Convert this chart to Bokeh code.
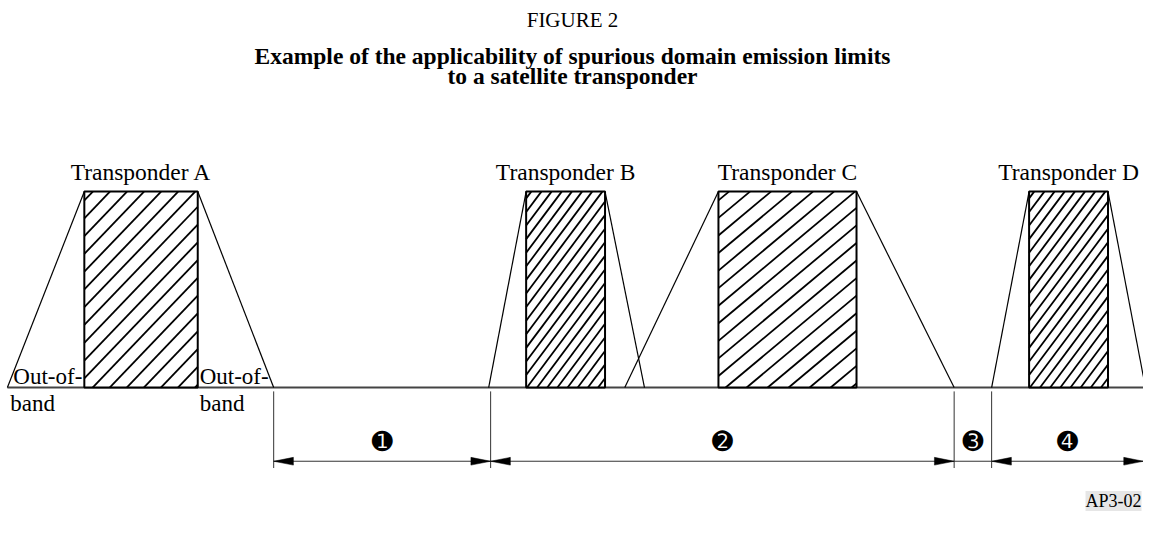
from bokeh.plotting import figure
from bokeh.models import Range1d, Label
from bokeh.core.properties import value
from bokeh.embed import file_html
from bokeh.resources import INLINE

# ---------------- data ----------------
transponders = ["Transponder A", "Transponder B", "Transponder C", "Transponder D"]
oob_low = [7, 495, 633, 1005]          # lower edge of out-of-band skirt (frequency)
carrier_low = [85, 533, 728, 1043]     # necessary bandwidth start
carrier_high = [200, 613, 868, 1123]   # necessary bandwidth end
oob_high = [277, 653, 967, 1161]       # upper edge of out-of-band skirt
carrier_level = [202, 202, 202, 202]   # level of the carrier

domain_bounds = [277, 497, 967, 1005, 1159]   # spurious-domain segments
domain_marks = ["\u278a", "\u278b", "\u278c", "\u278d"]

oob_text = ["Out-of-", "Out-of-"]
oob_text2 = ["band", "band"]

# hatch styles per transponder (horizontal spacing, slope)
hatch_spacing = [17.3, 10.3, 21.3, 10.3]
hatch_slope = [1.06, 1.36, 0.85, 1.36]

SERIF = value("Liberation Serif")

p = figure(width=1143, height=517, x_range=Range1d(0, 1159), y_range=Range1d(-134, 399),
           output_backend="svg", toolbar_location=None, min_border=0,
           x_axis_location=None, y_axis_location=None)
p.grid.visible = False
p.outline_line_color = None
p.background_fill_color = "white"
p.border_fill_color = "white"

# baseline
p.line(x=[oob_low[0], domain_bounds[-1]], y=[0, 0], line_color="#444444", line_width=2)

# skirts
p.segment(x0=oob_low, y0=[0] * 4, x1=carrier_low, y1=carrier_level, line_color="black", line_width=1.2)
p.segment(x0=carrier_high, y0=carrier_level, x1=oob_high, y1=[0] * 4, line_color="black", line_width=1.2)

# carrier blocks
p.quad(left=carrier_low, right=carrier_high, bottom=[0] * 4, top=carrier_level,
       fill_color="white", line_color=None)


def hatch(x0, x1, h, m, s):
    xs, ys = [], []
    c = x0 - h / m + s * 0.5
    while c < x1:
        xa, ya = c, 0.0
        xb, yb = c + h / m, h
        if xa < x0:
            xa, ya = x0, m * (x0 - c)
        if xb > x1:
            xb, yb = x1, m * (x1 - c)
        if xb > xa:
            xs.append([xa, xb])
            ys.append([ya, yb])
        c += s
    return xs, ys


hx, hy = [], []
for i in range(len(transponders)):
    a, b = hatch(carrier_low[i], carrier_high[i], carrier_level[i], hatch_slope[i], hatch_spacing[i])
    hx += a
    hy += b
p.multi_line(xs=hx, ys=hy, line_color="black", line_width=1.8)

p.quad(left=carrier_low, right=carrier_high, bottom=[0] * 4, top=carrier_level,
       fill_color=None, line_color="black", line_width=2)

# transponder labels
p.text(x=[(a + b) / 2 for a, b in zip(carrier_low, carrier_high)], y=[222] * 4, text=transponders,
       text_font=SERIF, text_font_size="23.5px", text_align="center", text_baseline="middle",
       text_color="black")

# out-of-band labels (transponder A)
p.text(x=[oob_low[0] + 6, carrier_high[0] + 2], y=[11, 11], text=oob_text,
       text_font=SERIF, text_font_size="23px", text_align="left", text_baseline="alphabetic",
       text_color="black")
p.text(x=[oob_low[0] + 3, carrier_high[0] + 2], y=[-16, -16], text=oob_text2,
       text_font=SERIF, text_font_size="23px", text_align="left", text_baseline="alphabetic",
       text_color="black")

# dimension lines
dim_y = -76
p.segment(x0=domain_bounds[:-1], y0=[-4] * 4, x1=domain_bounds[:-1], y1=[-83] * 4,
          line_color="#333333", line_width=1)
p.line(x=[domain_bounds[0], domain_bounds[-1]], y=[dim_y, dim_y], line_color="#333333", line_width=1)

head_len, head_w = 20, 4
axs, ays = [], []
for i in range(len(domain_bounds) - 1):
    lo, hi = domain_bounds[i], domain_bounds[i + 1]
    if hi - lo > 3 * head_len:
        axs.append([lo, lo + head_len, lo + head_len])
        ays.append([dim_y, dim_y + head_w, dim_y - head_w])
        axs.append([hi, hi - head_len, hi - head_len])
        ays.append([dim_y, dim_y + head_w, dim_y - head_w])
p.patches(xs=axs, ys=ays, fill_color="black", line_color="black", line_width=0.5)

p.text(x=[(domain_bounds[i] + domain_bounds[i + 1]) / 2 for i in range(4)], y=[-56] * 4,
       text=domain_marks, text_font=value("DejaVu Sans"), text_font_size="25px",
       text_align="center", text_baseline="middle", text_color="black")

# titles
p.text(x=[580], y=[379], text=["FIGURE 2"], text_font=SERIF, text_font_size="21px",
       text_align="center", text_baseline="middle", text_color="black")
p.text(x=[580, 580], y=[342, 321],
       text=["Example of the applicability of spurious domain emission limits",
             "to a satellite transponder"],
       text_font=SERIF, text_font_size="23.5px", text_font_style="bold",
       text_align="center", text_baseline="middle", text_color="black")

p.add_layout(Label(x=1157, y=-117, text="AP3-02", text_font="Liberation Serif", text_font_size="18px",
                   text_align="right", text_baseline="middle", text_color="black",
                   background_fill_color="#e6e6e6"))

open("out.html", "w").write(file_html(p, INLINE))
